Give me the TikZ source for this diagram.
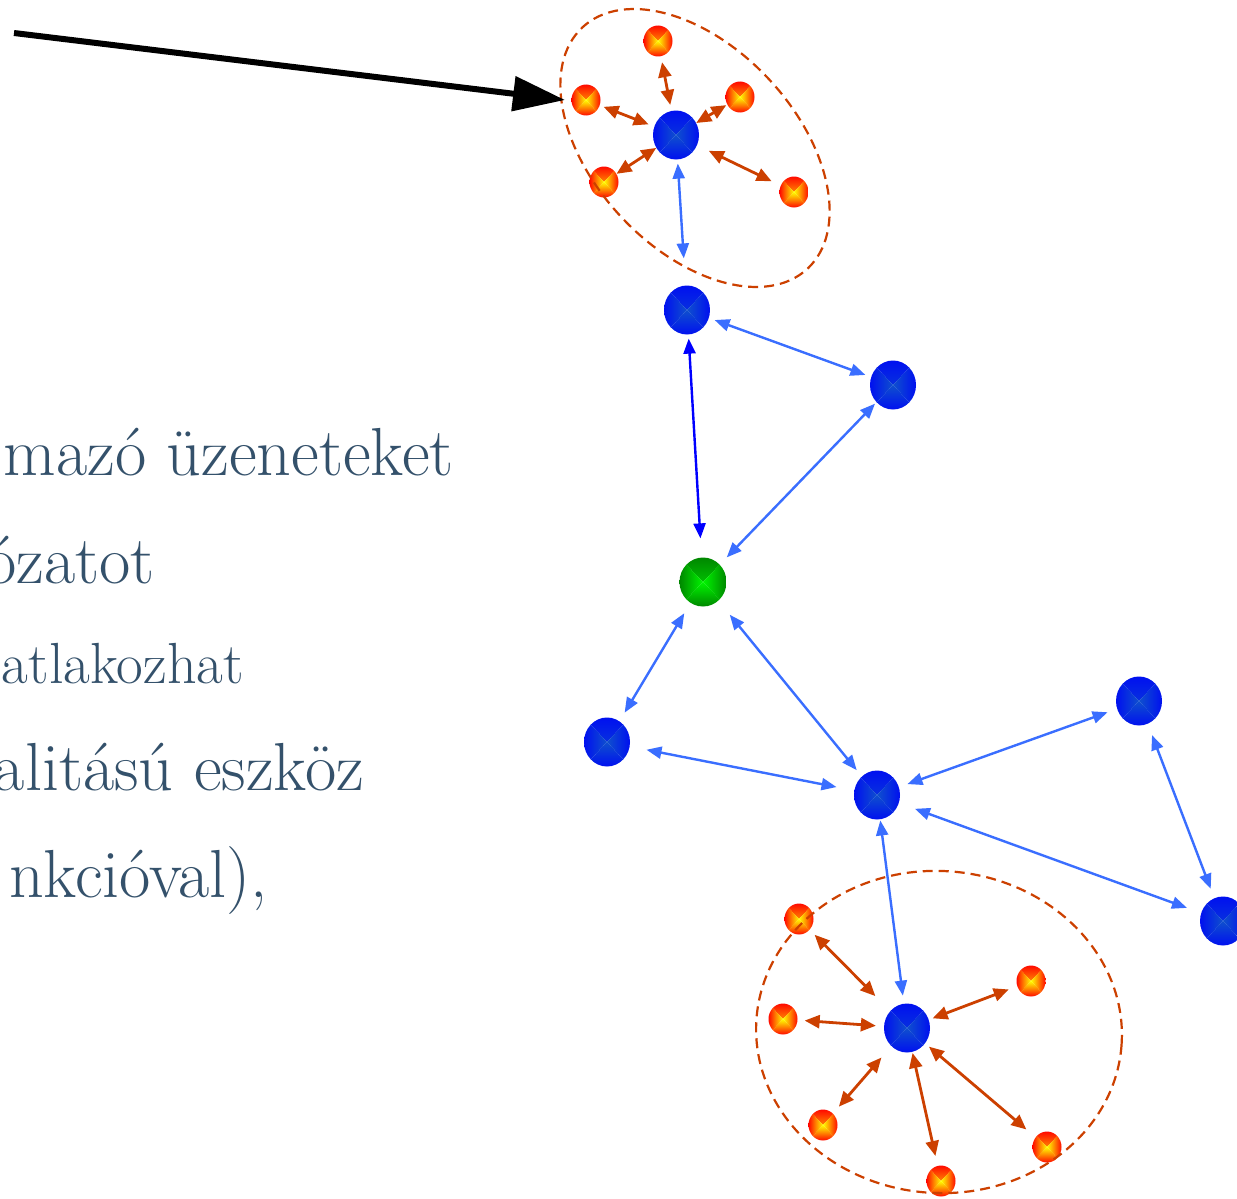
\documentclass[tikz,border=0pt]{standalone}
\usepackage{fontspec}
\usetikzlibrary{arrows.meta,shapes.geometric}

\definecolor{txt}{RGB}{52,81,107}
\definecolor{linkblue}{RGB}{58,110,255}
\definecolor{deepblue}{RGB}{0,0,255}
\definecolor{rust}{RGB}{204,64,0}
\definecolor{nodeblue}{RGB}{0,16,240}
\definecolor{nodebluecore}{RGB}{15,80,205}
\definecolor{fireedge}{RGB}{255,10,0}
\definecolor{firecore}{RGB}{255,255,0}
\definecolor{leafedge}{RGB}{0,135,0}
\definecolor{leafcore}{RGB}{0,245,0}

\tikzset{
  % four-sided gradient: edge colour #1 toward centre colour #2
  pyramid/.style 2 args={path picture={
    \path[top color=#1,bottom color=#2] (path picture bounding box.center)
      -- (path picture bounding box.north west) -- (path picture bounding box.north east) -- cycle;
    \path[top color=#2,bottom color=#1] (path picture bounding box.center)
      -- (path picture bounding box.south west) -- (path picture bounding box.south east) -- cycle;
    \path[left color=#1,right color=#2] (path picture bounding box.center)
      -- (path picture bounding box.north west) -- (path picture bounding box.south west) -- cycle;
    \path[left color=#2,right color=#1] (path picture bounding box.center)
      -- (path picture bounding box.north east) -- (path picture bounding box.south east) -- cycle;
  }},
  host/.style={ellipse, inner sep=0pt, minimum width=46pt, minimum height=49pt,
    pyramid={nodeblue}{nodebluecore}},
  leaf/.style={ellipse, inner sep=0pt, minimum width=29pt, minimum height=31pt,
    pyramid={fireedge}{firecore}},
  hub/.style={ellipse, inner sep=0pt, minimum width=47pt, minimum height=49pt,
    pyramid={leafedge}{leafcore}},
  blink/.style={draw=linkblue, line width=2.4pt,
    {Triangle[length=15pt,width=12pt,fill=linkblue]}-{Triangle[length=15pt,width=12pt,fill=linkblue]}},
  dlink/.style={draw=deepblue, line width=2.4pt,
    {Triangle[length=15pt,width=12pt,fill=deepblue]}-{Triangle[length=15pt,width=12pt,fill=deepblue]}},
  rlink/.style={draw=rust, line width=2.8pt,
    {Triangle[length=15pt,width=13pt,fill=rust]}-{Triangle[length=15pt,width=13pt,fill=rust]}},
  zone/.style={draw=rust, dashed, dash pattern=on 10pt off 6pt, line width=2.2pt,
    ellipse, inner sep=0pt},
  pointer/.style={draw=black, line width=6pt, -{Triangle[length=52pt,width=34pt]}},
  body/.style={text=txt, inner sep=0pt, anchor=base east},
  big/.style={font=\fontsize{68}{80}\selectfont\addfontfeatures{FakeBold=1.6}},
  mid/.style={font=\fontsize{58}{70}\selectfont\addfontfeatures{FakeBold=1.6}},
}

\begin{document}
\begin{tikzpicture}[x=1pt,y=-1pt]
\useasboundingbox (0,0) rectangle (1237,1199);
\fill[white] (0,0) rectangle (1237,1199);
\clip (0,0) rectangle (1237,1199);

% text lines
\node[body,big] (t1) at (454,475) {mazó üzeneteket};
\node[body,big] (t2) at (155,583) {ózatot};
\node[body,mid] (t3) at (244,683) {atlakozhat};
\node[body,big] (t4) at (364,790) {alitású eszköz};
\node[body,big] (t5) at (268,897) {nkcióval),};

% hosts and the hub
\node[host] (B1) at (676,135) {};
\node[host] (B2) at (687,310) {};
\node[host] (B3) at (893,385) {};
\node[hub]  (G)  at (703,582) {};
\node[host] (B4) at (607,742) {};
\node[host] (B5) at (877,795) {};
\node[host] (B6) at (1139,701) {};
\node[host] (B7) at (1223,921) {};
\node[host] (B8) at (907,1028) {};

% upper group of end devices
\node[leaf] (O1) at (658,41) {};
\node[leaf] (O2) at (586,100) {};
\node[leaf] (O3) at (740,97) {};
\node[leaf] (O4) at (604,182) {};
\node[leaf] (O5) at (794,192) {};

% lower group of end devices
\node[leaf] (P1) at (799,919) {};
\node[leaf] (P2) at (1031,981) {};
\node[leaf] (P3) at (783,1019) {};
\node[leaf] (P4) at (823,1125) {};
\node[leaf] (P5) at (1047,1147) {};
\node[leaf] (P6) at (941,1181) {};

% links between hosts
\draw[blink, shorten <=4pt, shorten >=27pt] (B1) -- (B2);
\draw[blink, shorten <=6pt, shorten >=6pt] (B2) -- (B3);
\draw[dlink, shorten <=4pt, shorten >=19pt] (B2) -- (G);
\draw[blink, shorten <=2pt, shorten >=10pt] (B3) -- (G);
\draw[blink, shorten <=12pt, shorten >=10pt] (G) -- (B4);
\draw[blink, shorten <=18pt, shorten >=8pt] (G) -- (B5);
\draw[blink, shorten <=17pt, shorten >=18pt] (B4) -- (B5);
\draw[blink, shorten <=9pt, shorten >=10pt] (B5) -- (B6);
\draw[blink, shorten <=12pt, shorten >=10pt] (B6) -- (B7);
\draw[blink, shorten <=17pt, shorten >=15pt] (B5) -- (B7);
\draw[blink, shorten <=1pt, shorten >=8pt] (B5) -- (B8);

% links inside the upper group
\draw[rlink, shorten <=6pt, shorten >=6pt] (O1) -- (B1);
\draw[rlink, shorten <=4pt, shorten >=6pt] (O2) -- (B1);
\draw[rlink, shorten <=1pt, shorten >=0pt] (O3) -- (B1);
\draw[rlink, shorten <=0pt, shorten >=0pt] (O4) -- (B1);
\draw[rlink, shorten <=10pt, shorten >=13pt] (O5) -- (B1);

% links inside the lower group
\draw[rlink, shorten <=7pt, shorten >=21pt] (P1) -- (B8);
\draw[rlink, shorten <=9pt, shorten >=4pt] (P2) -- (B8);
\draw[rlink, shorten <=7pt, shorten >=8pt] (P3) -- (B8);
\draw[rlink, shorten <=9pt, shorten >=15pt] (P4) -- (B8);
\draw[rlink, shorten <=12pt, shorten >=5pt] (P5) -- (B8);
\draw[rlink, shorten <=10pt, shorten >=1pt] (P6) -- (B8);

% group outlines
\node[zone, minimum width=330pt, minimum height=202pt, rotate=-47] (zoneA) at (695,148) {};
\node[zone, minimum width=366pt, minimum height=322pt, rotate=-4] (zoneB) at (939,1032) {};

% pointer to the upper group
\coordinate (src) at (14,33);
\coordinate (tip) at (565,100);
\draw[pointer] (src) -- (tip);
\end{tikzpicture}
\end{document}
